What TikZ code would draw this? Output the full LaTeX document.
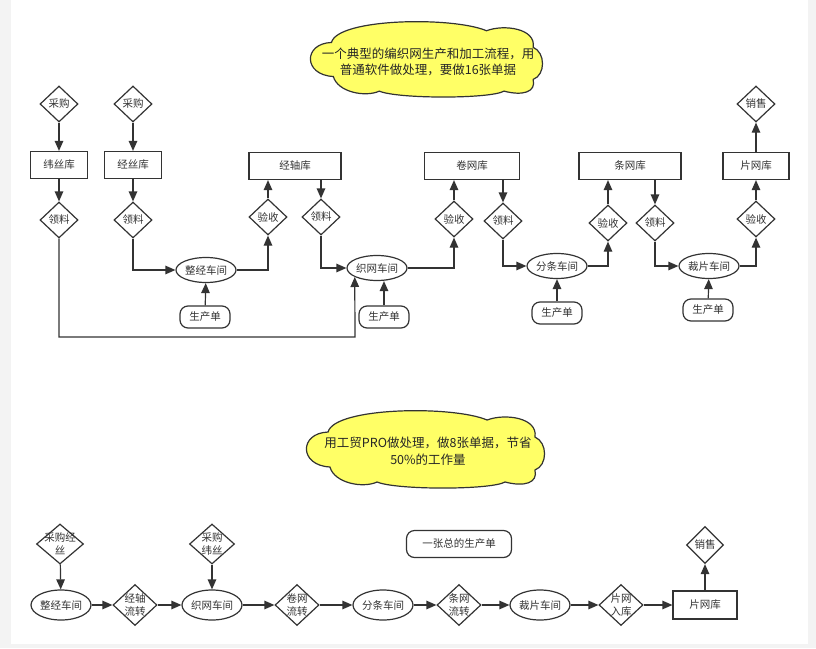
\documentclass[tikz,border=0pt]{standalone}
\usepackage{fontspec}
\setmainfont{Noto Sans CJK SC}
\usetikzlibrary{shapes.geometric,arrows.meta}
\definecolor{ink}{HTML}{333333}
\definecolor{notefill}{HTML}{FFFF66}
\definecolor{pagebg}{HTML}{F3F3F3}
\tikzset{
  base/.style={draw=ink, line width=1.2pt, text=ink, font=\fontsize{10.5}{13}\selectfont, inner sep=0pt},
  box/.style={base, rectangle, minimum height=27pt},
  order/.style={base, rectangle, rounded corners=8pt, minimum width=50pt, minimum height=22pt},
  shop/.style={base, ellipse, minimum width=60pt, minimum height=25pt},
  check/.style={base, diamond, minimum width=38pt, minimum height=36pt},
  pass/.style={check, minimum width=44pt, minimum height=41pt},
  dtext/.style={text=ink, font=\fontsize{10.5}{13}\selectfont, align=center, inner sep=0pt},
  cloudline/.style={draw=ink, line width=1.2pt, fill=notefill},
  ntext/.style={text=black!85, font=\fontsize{12.5}{16.5}\selectfont, align=center, inner sep=0pt},
  flow/.style={draw=ink, line width=1.2pt, -{Triangle[length=10pt,width=8.5pt]}}
}
% cloud outline: #1,#2 top left corner, #3 width, #4 height
\newcommand{\notecloud}[4]{%
  \begin{scope}[shift={(#1,#2)}, x=#3pt, y=-#4pt]
    \filldraw[cloudline] (0.093,0.286) .. controls (0.12,-0.04) and (0.62,-0.06) .. (0.764,0.13)
      .. controls (0.84,0.04) and (0.98,0.10) .. (0.966,0.351)
      .. controls (1.02,0.42) and (1.02,0.72) .. (0.966,0.779)
      .. controls (0.98,0.95) and (0.92,1) .. (0.84,0.935)
      .. controls (0.78,1.04) and (0.38,1.04) .. (0.3,0.935)
      .. controls (0.24,1.02) and (0.12,0.95) .. (0.101,0.74)
      .. controls (-0.03,0.72) and (-0.03,0.3) .. (0.093,0.286) -- cycle;
  \end{scope}}
\begin{document}
\begin{tikzpicture}[x=1pt,y=-1pt]
  \fill[pagebg] (0,0) rectangle (816,648);
  \fill[white] (11,0) rectangle (808,644);
  \useasboundingbox (0,0) rectangle (816,648);

  \notecloud{310}{21}{231}{75}
  \node[ntext] (note1) at (428,62) {一个典型的编织网生产和加工流程，用\\普通软件做处理，要做16张单据};
  \notecloud{306}{410}{237}{77}
  \node[ntext] (note2) at (428,451) {用工贸PRO做处理，做8张单据，节省\\50\%的工作量};

  \node[check, label={[dtext]center:采购}] (cg1) at (59,104) {};
  \node[check, label={[dtext]center:采购}] (cg2) at (133,104) {};
  \node[box, minimum width=57pt] (wsk) at (59,165) {纬丝库};
  \node[box, minimum width=57pt] (jsk) at (133,165) {经丝库};
  \node[check, label={[dtext]center:领料}] (ll1) at (59,220) {};
  \node[check, label={[dtext]center:领料}] (ll2) at (133,220) {};
  \node[shop] (zj) at (206,270) {整经车间};
  \node[order] (scd1) at (205,317) {生产单};
  \node[check, label={[dtext]center:验收}] (ys1) at (268,217) {};
  \node[box, minimum width=92pt] (jzk) at (295,166) {经轴库};
  \node[check, label={[dtext]center:领料}] (ll3) at (321,217) {};
  \node[shop] (zw) at (377,268) {织网车间};
  \node[order] (scd2) at (384,317) {生产单};
  \node[check, label={[dtext]center:验收}] (ys2) at (454,219) {};
  \node[box, minimum width=95pt] (jwk) at (472,166) {卷网库};
  \node[check, label={[dtext]center:领料}] (ll4) at (503,221) {};
  \node[shop] (fj) at (557,266) {分条车间};
  \node[order] (scd3) at (557,313) {生产单};
  \node[check, label={[dtext]center:验收}] (ys3) at (608,223) {};
  \node[box, minimum width=102pt] (twk) at (630,166) {条网库};
  \node[check, label={[dtext]center:领料}] (ll5) at (655,223) {};
  \node[shop] (cp) at (709,266) {裁片车间};
  \node[order] (scd4) at (708,310) {生产单};
  \node[check, label={[dtext]center:验收}] (ys4) at (756,219) {};
  \node[box, minimum width=66pt] (pwk) at (756,166) {片网库};
  \node[check, label={[dtext]center:销售}] (xs1) at (756,104) {};
  \coordinate (bl) at (355,337);

  \node[pass, minimum width=47pt, minimum height=40pt, label={[dtext]center:{采购经\\丝}}] (cgjs) at (60,544) {};
  \node[shop, minimum height=30pt] (zj2) at (61,605) {整经车间};
  \node[pass, label={[dtext]center:{经轴\\流转}}] (jzlz) at (135,605) {};
  \node[shop, minimum height=30pt] (zw2) at (212,605) {织网车间};
  \node[pass, minimum width=45pt, minimum height=40pt, label={[dtext]center:{采购\\纬丝}}] (cgws) at (212,544) {};
  \node[pass, label={[dtext]center:{卷网\\流转}}] (jwlz) at (297,605) {};
  \node[shop, minimum height=30pt] (fj2) at (383,605) {分条车间};
  \node[pass, label={[dtext]center:{条网\\流转}}] (twlz) at (459,605) {};
  \node[shop, minimum height=30pt] (cp2) at (540,605) {裁片车间};
  \node[pass, label={[dtext]center:{片网\\入库}}] (pwrk) at (621,605) {};
  \node[box, minimum width=64pt, minimum height=28pt] (pwk2) at (705,605) {片网库};
  \node[check, minimum width=37pt, minimum height=37pt, label={[dtext]center:销售}] (xs2) at (705,545) {};
  \node[order, minimum width=105pt, minimum height=27pt] (zsc) at (459,544) {一张总的生产单};

  \begin{scope}[flow]
    \draw (cg1) -- (wsk);
    \draw (wsk) -- (ll1);
    \draw (ll1) |- (bl) -- (zw.202);
    \draw (cg2) -- (jsk);
    \draw (jsk) -- (ll2);
    \draw (ll2) |- (zj);
    \draw (scd1) -- (zj);
    \draw (zj) -| (ys1);
    \draw (ys1) -- (ys1 |- jzk.south);
    \draw (ll3 |- jzk.south) -- (ll3);
    \draw (ll3) |- (zw);
    \draw (scd2) -- (scd2 |- zw.south);
    \draw (zw) -| (ys2);
    \draw (ys2) -- (ys2 |- jwk.south);
    \draw (ll4 |- jwk.south) -- (ll4);
    \draw (ll4) |- (fj);
    \draw (scd3) -- (fj);
    \draw (fj) -| (ys3);
    \draw (ys3) -- (ys3 |- twk.south);
    \draw (ll5 |- twk.south) -- (ll5);
    \draw (ll5) |- (cp);
    \draw (scd4) -- (cp);
    \draw (cp) -| (ys4);
    \draw (ys4) -- (pwk);
    \draw (pwk) -- (xs1);
    \draw (cgjs) -- (zj2);
    \draw (zj2) -- (jzlz);
    \draw (jzlz) -- (zw2);
    \draw (cgws) -- (zw2);
    \draw (zw2) -- (jwlz);
    \draw (jwlz) -- (fj2);
    \draw (fj2) -- (twlz);
    \draw (twlz) -- (cp2);
    \draw (cp2) -- (pwrk);
    \draw (pwrk) -- (pwk2);
    \draw (pwk2) -- (xs2);
  \end{scope}
\end{tikzpicture}
\end{document}
